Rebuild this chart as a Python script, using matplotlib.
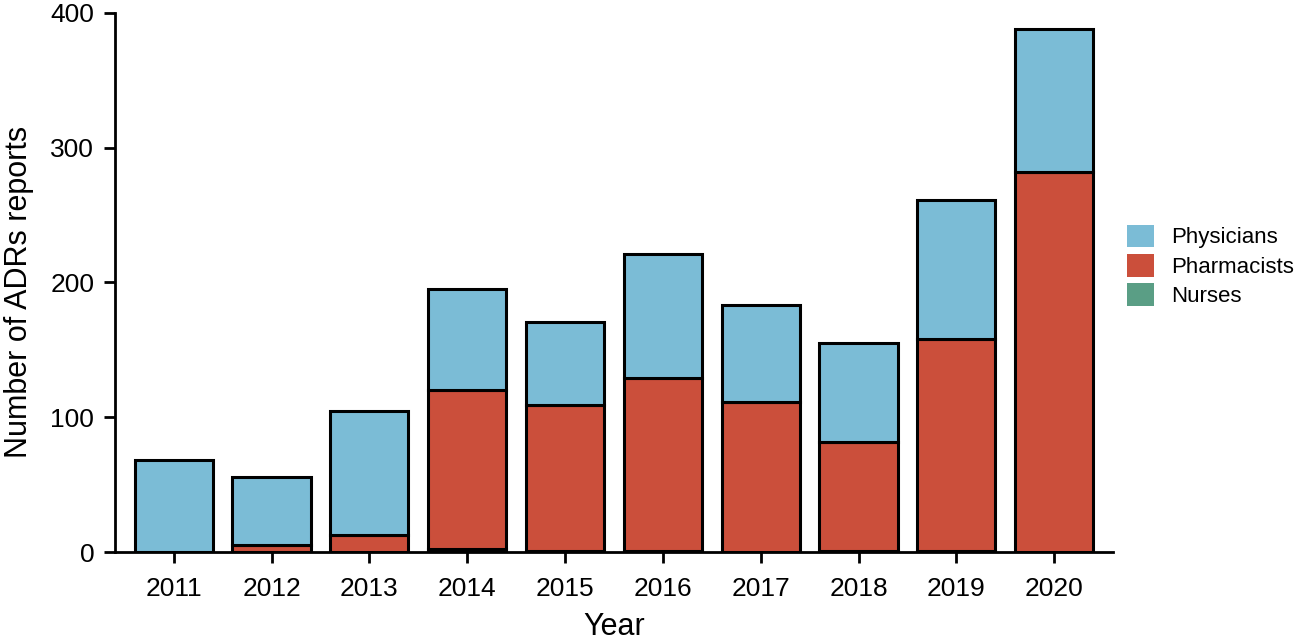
import matplotlib.pyplot as plt
import numpy as np

plt.rcParams['font.family'] = ['Liberation Sans', 'DejaVu Sans']

years = ['2011', '2012', '2013', '2014', '2015', '2016', '2017', '2018', '2019', '2020']
nurses = [0, 0, 0, 2, 1, 1, 0, 1, 1, 0]
pharmacists = [0, 5, 13, 118, 108, 128, 111, 81, 157, 282]
physicians = [68, 51, 92, 75, 62, 92, 72, 73, 103, 106]

c_phys = '#7bbcd6'
c_pharm = '#cb4f3b'
c_nurse = '#5a9e85'

fig = plt.figure(figsize=(13.01, 6.42), dpi=100)
ax = fig.add_axes([0.0884, 0.14, 0.767, 0.84])

x = np.arange(len(years))
nurses = np.array(nurses)
pharmacists = np.array(pharmacists)
physicians = np.array(physicians)

ax.bar(x, nurses, 0.8, color=c_nurse, edgecolor='black', linewidth=2.2, label='Nurses')
ax.bar(x, pharmacists, 0.8, bottom=nurses, color=c_pharm, edgecolor='black', linewidth=2.2,
       label='Pharmacists')
ax.bar(x, physicians, 0.8, bottom=nurses + pharmacists, color=c_phys, edgecolor='black',
       linewidth=2.2, label='Physicians')

ax.set_xlim(-0.6, 9.6)
ax.set_ylim(0, 400)
ax.set_yticks([0, 100, 200, 300, 400])
ax.set_xticks(x)
ax.set_xticklabels(years)
ax.tick_params(axis='both', width=2, length=8, labelsize=19)
ax.tick_params(axis='y', pad=7)
ax.tick_params(axis='x', pad=10)
for s in ['top', 'right']:
    ax.spines[s].set_visible(False)
for s in ['left', 'bottom']:
    ax.spines[s].set_linewidth(2)

ax.set_xlabel('Year', fontsize=22, labelpad=8)
ax.set_ylabel('Number of ADRs reports', fontsize=22)
ax.yaxis.set_label_coords(-0.081, 0.482)

h, l = ax.get_legend_handles_labels()
leg = fig.legend(h[::-1], l[::-1], loc='center left', bbox_to_anchor=(1127 / 1301, 1 - 266 / 642),
                 frameon=False, fontsize=16, handlelength=1.2, handleheight=1.2,
                 handletextpad=0.8, labelspacing=0.25, borderpad=0, borderaxespad=0)
for p in leg.get_patches():
    p.set_edgecolor('none')

fig.savefig('out.png', dpi=100)
